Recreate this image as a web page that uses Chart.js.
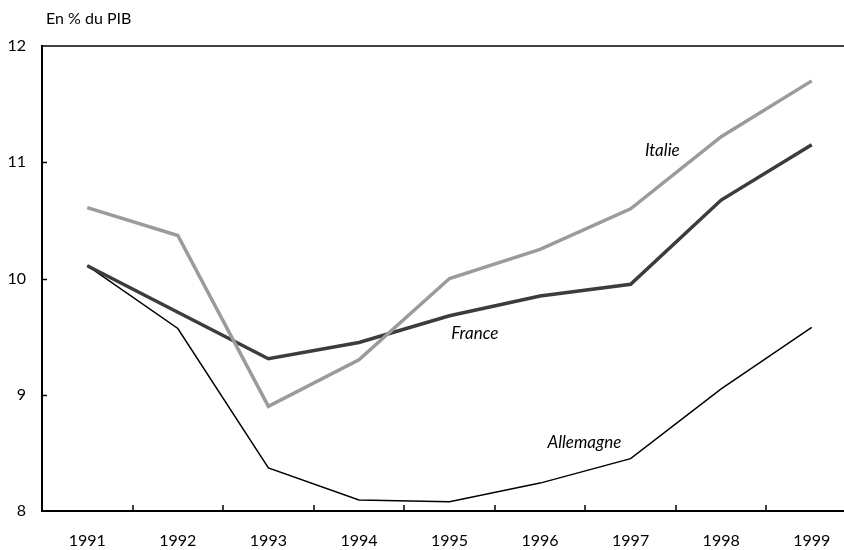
<!DOCTYPE html>
<html>
<head>
<meta charset="utf-8">
<script src="https://cdn.jsdelivr.net/npm/chart.js@4.4.1/dist/chart.umd.min.js"></script>
<style>
  html, body { margin: 0; padding: 0; background: #fff; overflow: hidden; }
  #wrap { width: 857px; height: 550px; }
</style>
</head>
<body>
<div id="wrap"><canvas id="chart" width="857" height="550"></canvas></div>
<script>
// valeurs (en % du PIB)
var years = ['1991', '1992', '1993', '1994', '1995', '1996', '1997', '1998', '1999'];
var france = [10.11, 9.71, 9.31, 9.45, 9.68, 9.85, 9.95, 10.675, 11.15];
var italie = [10.61, 10.37, 8.90, 9.30, 10.0, 10.25, 10.60, 11.22, 11.70];
var allemagne = [10.11, 9.57, 8.37, 8.095, 8.08, 8.24, 8.45, 9.05, 9.58];
var yTicks = [8, 9, 10, 11, 12];

// etiquettes placees sur les courbes : [texte, index annee, valeur]
var labels = [
    ['Italie', 6.35, 11.1],
    ['France', 4.28, 9.53],
    ['Allemagne', 5.49, 8.585]
];

var FONT = 'Lato, "DejaVu Sans", sans-serif';

var extras = {
    id: 'extras',
    afterDraw: function (chart) {
        var ctx = chart.ctx;
        var a = chart.chartArea;
        var xs = chart.scales.x, ys = chart.scales.y;
        ctx.save();
        ctx.strokeStyle = '#000';
        // ligne du haut
        ctx.lineWidth = 1.5;
        ctx.beginPath();
        ctx.moveTo(a.left, ys.getPixelForValue(12));
        ctx.lineTo(a.right, ys.getPixelForValue(12));
        ctx.stroke();
        // petites graduations vers l'interieur
        yTicks.forEach(function (v) {
            if (v === 8 || v === 12) return;
            var y = Math.round(ys.getPixelForValue(v)) + 0.5;
            ctx.beginPath();
            ctx.moveTo(a.left, y);
            ctx.lineTo(a.left + 5, y);
            ctx.stroke();
        });
        for (var i = 1; i < years.length; i++) {
            var x = Math.round(xs.getPixelForValue(i - 0.5));
            ctx.beginPath();
            ctx.moveTo(x, a.bottom);
            ctx.lineTo(x, a.bottom - 6);
            ctx.stroke();
        }
        // titre
        ctx.fillStyle = '#000';
        ctx.font = '16px ' + FONT;
        ctx.textAlign = 'left';
        ctx.textBaseline = 'middle';
        ctx.fillText('En % du PIB', 46, 19);
        // noms des pays
        ctx.font = 'italic 17px ' + FONT;
        ctx.textAlign = 'center';
        labels.forEach(function (l) {
            ctx.fillText(l[0], xs.getPixelForValue(l[1]), ys.getPixelForValue(l[2]));
        });
        ctx.restore();
    }
};

new Chart(document.getElementById('chart'), {
    type: 'line',
    data: {
        labels: years,
        datasets: [
            { label: 'Italie', data: italie, borderColor: '#9b9b9b', borderWidth: 3.5 },
            { label: 'France', data: france, borderColor: '#3c3c3c', borderWidth: 3.5 },
            { label: 'Allemagne', data: allemagne, borderColor: '#000', borderWidth: 1.5 }
        ]
    },
    options: {
        responsive: false,
        animation: false,
        layout: { padding: { top: 46, left: 0, right: 0, bottom: 0 } },
        elements: { point: { radius: 0 }, line: { tension: 0 } },
        plugins: { legend: { display: false }, tooltip: { enabled: false } },
        scales: {
            x: {
                offset: true,
                grid: { display: false, drawTicks: false },
                border: { display: true, color: '#000', width: 2 },
                ticks: { color: '#000', padding: 20, font: { family: FONT, size: 16 } },
                afterFit: function (s) { s.height = 39; }
            },
            y: {
                min: 8, max: 12,
                grid: { display: false, drawTicks: false },
                border: { display: true, color: '#000', width: 2 },
                ticks: { color: '#000', padding: 16, stepSize: 1, font: { family: FONT, size: 16 } },
                afterFit: function (s) { s.width = 42; }
            }
        }
    },
    plugins: [extras]
});
</script>
</body>
</html>
